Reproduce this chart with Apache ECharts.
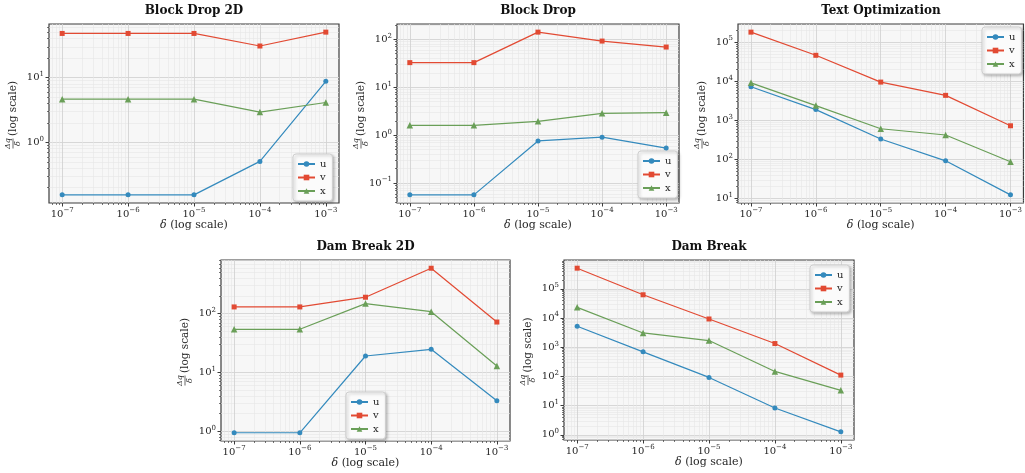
<!DOCTYPE html>
<html><head><meta charset="utf-8">
<script src="https://cdn.jsdelivr.net/npm/echarts@6/dist/echarts.min.js"></script>
<style>html,body{margin:0;padding:0;background:#fff}#c{width:1025px;height:473px}</style>
</head><body><div id="c"></div>
<script>
// ---- data ----
const deltas = [1e-7, 1e-6, 1e-5, 1e-4, 1e-3];
const seriesNames = ['u', 'v', 'x'];
const titles = ['Block Drop 2D', 'Block Drop', 'Text Optimization', 'Dam Break 2D', 'Dam Break'];

const blockDrop2D_u = [0.155, 0.155, 0.155, 0.51, 8.8];
const blockDrop2D_v = [48.3, 48.3, 48.3, 30.9, 50.6];
const blockDrop2D_x = [4.66, 4.66, 4.66, 2.95, 4.14];

const blockDrop_u = [0.057, 0.057, 0.76, 0.91, 0.54];
const blockDrop_v = [32.6, 32.6, 141, 91.8, 68.9];
const blockDrop_x = [1.61, 1.61, 1.95, 2.86, 2.95];

const textOpt_u = [7200, 1880, 333, 92, 12.4];
const textOpt_v = [180000, 46000, 9500, 4350, 725];
const textOpt_x = [9100, 2380, 608, 421, 87];

const damBreak2D_u = [0.95, 0.95, 19.1, 24.8, 3.32];
const damBreak2D_v = [130, 130, 190, 590, 72];
const damBreak2D_x = [54.2, 54.2, 148, 108, 12.9];

const damBreak_u = [5200, 693, 92.4, 8.3, 1.27];
const damBreak_v = [507000, 62400, 9250, 1334, 111];
const damBreak_x = [23100, 3080, 1690, 148, 33.3];

const panelData = [
  [blockDrop2D_u, blockDrop2D_v, blockDrop2D_x],
  [blockDrop_u, blockDrop_v, blockDrop_x],
  [textOpt_u, textOpt_v, textOpt_x],
  [damBreak2D_u, damBreak2D_v, damBreak2D_x],
  [damBreak_u, damBreak_v, damBreak_x]
];

// ---- layout / style ----
const grids = [
  {left: 49, top: 24, width: 290, height: 179},
  {left: 397, top: 24, width: 282, height: 179},
  {left: 738, top: 24, width: 286, height: 179},
  {left: 221, top: 260, width: 289, height: 181},
  {left: 564, top: 260, width: 290, height: 180}
];
const legendPos = [
  {left: 293, top: 154}, {left: 638, top: 151}, {left: 982, top: 27},
  {left: 346, top: 392}, {left: 810, top: 265}
];
const colors = ['#348ABD', '#E24A33', '#6A9F58'];
const symbols = ['circle', 'rect', 'triangle'];
const symSizes = [5, 5, 6.5];
const FONT = 'DejaVu Serif';
const TXT = '#262626';

function expLabel(v) {
  const e = Math.round(Math.log10(v));
  const s = e < 0 ? '\u2212' + (-e) : '' + e;
  return '{b|10}{s|' + s + '}';
}
const labelRich = {
  b: {fontSize: 10, fontFamily: FONT, color: TXT, lineHeight: 14},
  s: {fontSize: 7, fontFamily: FONT, color: TXT, verticalAlign: 'top', lineHeight: 8}
};
function majorVals(lo, hi) {
  const r = [];
  for (let n = Math.ceil(lo - 1e-9); n <= hi + 1e-9; n++) r.push(Math.pow(10, n));
  return r;
}
function minorVals(lo, hi) {
  const r = [];
  for (let n = Math.floor(lo) - 1; n <= Math.ceil(hi); n++) {
    for (let k = 2; k <= 9; k++) {
      const v = k * Math.pow(10, n);
      const l = Math.log10(v);
      if (l >= lo && l <= hi) r.push(v);
    }
  }
  return r;
}
function txt(text, x, y, size, style, weight) {
  return {
    type: 'text', x: x, y: y,
    style: {
      text: text, fill: TXT, fontSize: size, fontFamily: FONT,
      fontStyle: style || 'normal', fontWeight: weight || 'normal',
      align: 'center', verticalAlign: 'middle',
      textAlign: 'center', textVerticalAlign: 'middle'
    }
  };
}

const xLo = -7.2, xHi = -2.8;

const option = {
  backgroundColor: '#ffffff',
  animation: false,
  grid: [], xAxis: [], yAxis: [], series: [], legend: [], graphic: []
};

grids.forEach((g, i) => {
  option.grid.push(Object.assign({show: true, backgroundColor: '#f7f7f7', borderColor: '#3c3c3c', borderWidth: 1.2}, g));
  // y range like matplotlib (5% margins in log space)
  let lmin = Infinity, lmax = -Infinity;
  panelData[i].forEach(arr => arr.forEach(v => { const l = Math.log10(v); lmin = Math.min(lmin, l); lmax = Math.max(lmax, l); }));
  const pad = 0.05 * (lmax - lmin);
  const yLo = lmin - pad, yHi = lmax + pad;

  const xMaj = majorVals(xLo, xHi), xMin = minorVals(xLo, xHi);
  const yMaj = majorVals(yLo, yHi), yMin = minorVals(yLo, yHi);

  // major x
  option.xAxis.push({
    type: 'log', logBase: 10, gridIndex: i, position: 'bottom',
    min: Math.pow(10, xLo), max: Math.pow(10, xHi),
    axisLine: {show: false},
    axisTick: {show: true, inside: false, length: 3.5, customValues: xMaj, lineStyle: {color: '#3c3c3c', width: 1}},
    axisLabel: {show: true, margin: 4, customValues: xMaj, formatter: expLabel, rich: labelRich},
    splitLine: {show: true, lineStyle: {color: '#d2d2d2', width: 0.9}},
    name: '{i|\u03b4} (log scale)', nameLocation: 'middle', nameGap: 17,
    nameTextStyle: {fontSize: 11, fontFamily: FONT, color: TXT, verticalAlign: 'top',
      rich: {i: {fontStyle: 'italic', fontSize: 11, fontFamily: FONT, color: TXT}}}
  });
  // minor x
  option.xAxis.push({
    type: 'log', logBase: 10, gridIndex: i, position: 'bottom',
    min: Math.pow(10, xLo), max: Math.pow(10, xHi),
    axisLine: {show: false},
    axisTick: {show: true, inside: false, length: 2, customValues: xMin, lineStyle: {color: '#3c3c3c', width: 0.7}},
    axisLabel: {show: false},
    splitLine: {show: true, lineStyle: {color: '#e6e6e6', width: 0.6}}
  });
  // major y
  option.yAxis.push({
    type: 'log', logBase: 10, gridIndex: i, position: 'left',
    min: Math.pow(10, yLo), max: Math.pow(10, yHi),
    axisLine: {show: false},
    axisTick: {show: true, inside: false, length: 3.5, customValues: yMaj, lineStyle: {color: '#3c3c3c', width: 1}},
    axisLabel: {show: true, margin: 5, customValues: yMaj, formatter: expLabel, rich: labelRich},
    splitLine: {show: true, lineStyle: {color: '#d2d2d2', width: 0.9}}
  });
  // minor y
  option.yAxis.push({
    type: 'log', logBase: 10, gridIndex: i, position: 'left',
    min: Math.pow(10, yLo), max: Math.pow(10, yHi),
    axisLine: {show: false},
    axisTick: {show: true, inside: false, length: 2, customValues: yMin, lineStyle: {color: '#3c3c3c', width: 0.7}},
    axisLabel: {show: false},
    splitLine: {show: true, lineStyle: {color: '#e6e6e6', width: 0.6}}
  });

  seriesNames.forEach((nm, s) => {
    option.series.push({
      type: 'line', name: nm, xAxisIndex: 2 * i, yAxisIndex: 2 * i,
      data: deltas.map((d, k) => [d, panelData[i][s][k]]),
      symbol: symbols[s], symbolSize: symSizes[s], showSymbol: true,
      lineStyle: {color: colors[s], width: 1.2},
      itemStyle: {color: colors[s]},
      z: 5
    });
  });

  option.legend.push({
    data: seriesNames, orient: 'vertical', left: legendPos[i].left, top: legendPos[i].top,
    itemWidth: 17, itemHeight: 7, itemGap: 1.5,
    padding: [4, 6, 4, 4],
    backgroundColor: '#fbfbfb', borderColor: '#cfcfcf', borderWidth: 1, borderRadius: 3,
    shadowBlur: 3, shadowOffsetX: 1.5, shadowOffsetY: 1.5, shadowColor: 'rgba(0,0,0,0.25)',
    textStyle: {fontFamily: FONT, fontSize: 10, color: TXT, lineHeight: 12},
    selectedMode: false
  });

  const cx = g.left + g.width / 2;
  const cy = g.top + g.height / 2;
  // title
  const t = txt(titles[i], cx, g.top - 13, 12, 'normal', 'bold');
  t.style.fill = '#111';
  option.graphic.push(t);
  // y axis label: (Δq / δ) (log scale), rotated
  const gx = g.left - 36;
  option.graphic.push({
    type: 'group', x: gx, y: cy, rotation: Math.PI / 2,
    children: [
      txt('\u0394q', -30, -5, 8, 'italic'),
      {type: 'line', shape: {x1: -35, y1: 0, x2: -25, y2: 0}, style: {stroke: TXT, lineWidth: 0.7}},
      txt('\u03b4', -30, 5, 8, 'italic'),
      txt('(log scale)', 5, 0, 10.5)
    ]
  });
});

const chart = echarts.init(document.getElementById('c'), null, {renderer: 'canvas'});
chart.setOption(option);
</script>
</body></html>
